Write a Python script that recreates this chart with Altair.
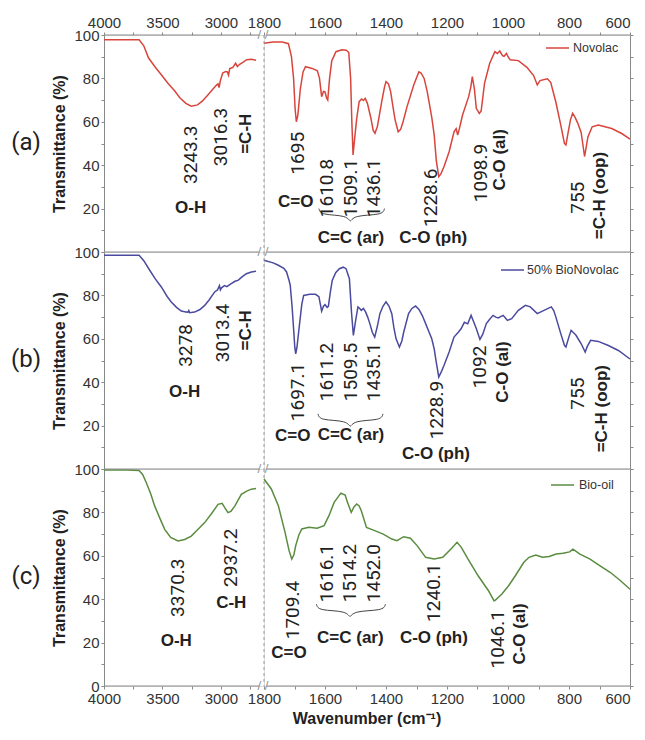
import altair as alt
import pandas as pd

# ---------------- data ----------------
WN_NOVOLAC = [4000, 3800, 3700, 3660, 3620, 3560, 3510, 3450, 3400, 3350, 3300, 3254, 3200, 3160, 3110, 3070,
              3040, 3025, 3016, 3005, 2985, 2960, 2945, 2935, 2925, 2900, 2875, 2860, 2840, 2810, 2780, 2740, 2700,
              1800, 1770, 1740, 1720, 1710, 1703, 1698, 1694, 1689, 1681, 1672, 1664, 1642, 1625, 1618, 1611, 1605,
              1600, 1595, 1591, 1585, 1578, 1564, 1545, 1530, 1522, 1516, 1512, 1508, 1503, 1496, 1488, 1480, 1474,
              1468, 1461, 1455, 1450, 1442, 1436, 1428, 1414, 1405, 1400, 1392, 1385, 1375, 1370, 1360, 1352, 1344,
              1331, 1309, 1298, 1292, 1285, 1275, 1265, 1259, 1250, 1242, 1235, 1227, 1220, 1210, 1193, 1177, 1170,
              1165, 1160, 1149, 1129, 1122, 1117, 1110, 1104, 1094, 1088, 1077, 1060, 1043, 1035, 1027, 1018, 1013,
              1005, 1000, 993, 966, 938, 916, 904, 895, 871, 860, 843, 827, 815, 810, 803, 795, 788, 780, 771, 760,
              755, 749, 744, 738, 724, 704, 682, 660, 627, 600]
T_NOVOLAC = [97.8, 97.8, 97.8, 95, 89.5, 85, 81.7, 77.5, 74.5, 71, 68.5, 67.2, 67.8, 69.5, 72.5, 75,
             76.8, 77.5, 75.8, 79, 82.5, 83.2, 83, 81.5, 84.5, 85, 87, 85.5, 86.5, 87.5, 88.6, 88.8, 88.4,
             96.2, 96.8, 96.8, 96, 90, 80, 66, 60, 63, 75, 83, 85.4, 84.6, 83.5, 80, 71.6, 74,
             73.8, 71, 70, 80, 88, 92.3, 93.2, 93, 91.9, 80, 60, 44.7, 52, 61.6, 69.3, 70.5, 69.8,
             70.8, 68.5, 65, 62, 56, 54.7, 58, 69.3, 76, 78.5, 77.5, 74, 65, 60.8, 55.4, 56.5, 60,
             67, 77, 81, 83, 82.5, 80, 74, 69.3, 62, 54, 42, 34.7, 36, 39.3, 46.2, 55.4, 56.9,
             53.9, 56.5, 63.1, 71.6, 76, 80.8, 75, 66.2, 63.9, 65, 77.7, 87, 92.3, 91.5, 92.6, 90.5, 90.2,
             91.5, 90, 88.6, 88.2, 85.1, 81.3, 77, 79, 79.8, 78.2, 69, 58.5, 50, 49.3, 55, 61, 63.9, 62, 59.3, 55,
             50, 44, 48, 53, 57.7, 58.5, 57.7, 56.9, 54.6, 52]

WN_BIONOVOLAC = [4000, 3800, 3700, 3660, 3609, 3560, 3510, 3460, 3425, 3380, 3339, 3300, 3282, 3275, 3268, 3225,
                 3180, 3139, 3100, 3054, 3030, 3013, 3005, 2995, 2970, 2950, 2912, 2880, 2854, 2820, 2783, 2740, 2700,
                 1800, 1770, 1753, 1735, 1726, 1718, 1714, 1708, 1703, 1699, 1696, 1692, 1684, 1676, 1670, 1650,
                 1631, 1620, 1614, 1611, 1605, 1600, 1593, 1589, 1582, 1576, 1565, 1553, 1540, 1531, 1520, 1513,
                 1507, 1500, 1492, 1486, 1481, 1474, 1467, 1460, 1453, 1445, 1437, 1428, 1420, 1410, 1400, 1390,
                 1381, 1374, 1367, 1356, 1348, 1342, 1326, 1315, 1303, 1292, 1281, 1270, 1259, 1250, 1242, 1235,
                 1227, 1218, 1210, 1193, 1177, 1163, 1154, 1143, 1132, 1121, 1113, 1104, 1092, 1083, 1071, 1060,
                 1049, 1040, 1032, 1016, 1002, 988, 966, 943, 927, 904, 882, 858, 850, 843, 827, 815, 810, 800,
                 793, 777, 760, 747, 740, 729, 704, 671, 638, 600]
T_BIONOVOLAC = [98.5, 98.5, 98.5, 96, 91.6, 87.5, 83.9, 79.5, 77, 74.5, 72.8, 72.4, 72.3, 73, 72, 72.3,
                73.5, 75.4, 78, 81.6, 82.5, 84.5, 82.5, 83.5, 84.5, 84, 85.4, 86.5, 86.9, 88.5, 90, 90.8, 91.1,
                96.2, 95, 93.9, 92.5, 90.8, 87, 84.7, 75, 64.7, 56, 53.1, 56, 66.2, 76, 80, 80.5,
                80.5, 79.4, 75, 72.7, 75, 75.7, 74.5, 75, 82, 87, 90.5, 92.3, 93, 92.3, 87.7, 72,
                61.6, 68, 74.7, 74, 73.1, 74, 72.4, 70, 67, 63, 60.8, 66, 71.6, 75, 77, 75,
                71.6, 65, 60, 56.2, 59, 63, 71.6, 74, 75.1, 73.5, 70.7, 67, 63.1, 60, 55.4, 49,
                42.4, 45, 47.7, 53.9, 60.8, 63, 64.6, 67.6, 66.9, 70.8, 68, 64.7, 59.7, 62, 67, 69,
                70.8, 70, 69.6, 70.8, 68.5, 69.3, 73.1, 75.4, 74.7, 71.6, 73.1, 74.7, 73, 70, 62.4, 57, 56.2, 61,
                63.9, 61.6, 57.7, 53.9, 56.5, 59.3, 58.8, 56.9, 54.6, 50.7]

WN_BIOOIL = [4000, 3800, 3700, 3670, 3638, 3600, 3567, 3520, 3481, 3430, 3367, 3310, 3254, 3200, 3139, 3080,
             3025, 2990, 2965, 2940, 2915, 2882, 2850, 2826, 2780, 2740, 2700,
             1800, 1776, 1753, 1731, 1718, 1709, 1702, 1696, 1686, 1676, 1653, 1626, 1603, 1587, 1570, 1548,
             1534, 1526, 1514, 1505, 1496, 1488, 1481, 1464, 1437, 1409, 1381, 1364, 1342, 1320, 1298, 1270,
             1242, 1214, 1187, 1167, 1153, 1131, 1098, 1064, 1046, 1042, 1020, 998, 976, 948, 931, 909, 887,
             865, 842, 820, 798, 787, 764, 731, 698, 664, 631, 600]
T_BIOOIL = [99.5, 99.5, 99.3, 97.5, 93.7, 88.5, 83, 77, 72.2, 68.5, 66.8, 67.5, 69.1, 72, 75.3, 79.5,
            83.7, 84.2, 82, 79.9, 80.5, 82.9, 86, 88.3, 89.8, 90.7, 91,
            95.4, 90.8, 83.1, 70.8, 62.5, 58.5, 60.5, 64.7, 69.5, 72.4, 73.1, 72.7, 73.9, 78.5, 84.6, 88.9,
            88, 84.6, 80, 82.5, 83.9, 83, 80.8, 73.1, 71.6, 70, 67.7, 67, 68.8, 68.1, 64.7, 59.3,
            58.5, 59.3, 63.1, 66.2, 63.9, 58.5, 50.8, 43.9, 39.3, 39.5, 42.4, 46.2, 50.8, 57, 59.3, 60.4, 59.3,
            59.7, 60.8, 61.2, 61.8, 63.1, 60.8, 58.5, 55.4, 52.3, 48.5, 44.6]

SERIES_NAMES = ["Novolac", "50% BioNovolac", "Bio-oil"]
SERIES_COLORS = ["#d8453c", "#4a4a9e", "#5a8c40"]
PANEL_TAGS = ["(a)", "(b)", "(c)"]

# annotations: text, wavenumber, transmittance, kind (num = rotated number, rot = rotated bold, hor = bold)
ANN_A_TEXT = ["3243.3", "3016.3", "=C-H", "O-H", "1695", "C=O", "1610.8", "1509.1", "1436.1", "C=C (ar)",
              "1228.6", "C-O (ph)", "1098.9", "C-O (al)", "755", "=C-H (oop)"]
ANN_A_WN = [3254, 2997, 2783, 3259, 1690, 1696, 1592, 1515, 1440, 1515, 1252, 1245, 1088, 1027, 771, 699]
ANN_A_T = [44.8, 53, 54.5, 20.3, 45.5, 23, 29.5, 29.5, 29.5, 6.5, 25, 6.5, 36.4, 42.5, 25, 26]
ANN_A_KIND = ["num", "num", "rot", "hor", "num", "hor", "num", "num", "num", "hor",
              "num", "hor", "num", "rot", "num", "rot"]

ANN_B_TEXT = ["3278", "3013.4", "=C-H", "O-H", "1697.1", "C=O", "1611.2", "1509.5", "1435.1", "C=C (ar)",
              "1228.9", "C-O (ph)", "1092", "C-O (al)", "755", "=C-H (oop)"]
ANN_B_WN = [3296, 2983, 2783, 3310, 1688, 1706, 1592, 1515, 1440, 1515, 1232, 1236, 1093, 1016, 771, 693]
ANN_B_T = [57, 62.7, 63.9, 35.5, 35.5, 15, 44.7, 44.7, 44.7, 15.5, 27.2, 7, 47, 44.7, 34.7, 27.8]
ANN_B_KIND = ["num", "num", "rot", "hor", "num", "hor", "num", "num", "num", "hor",
              "num", "hor", "num", "rot", "num", "rot"]

ANN_C_TEXT = ["3370.3", "2937.2", "C-H", "O-H", "1709.4", "C=O", "1616.1", "1514.2", "1452.0", "C=C (ar)",
              "1240.1", "C-O (ph)", "1046.1", "C-O (al)"]
ANN_C_WN = [3367, 2912, 2912, 3382, 1706, 1718, 1595, 1518, 1440, 1517, 1242, 1243, 1034, 960]
ANN_C_T = [45.3, 59.1, 38.4, 20.7, 35, 15, 52, 52, 52, 22, 43, 22, 21.5, 24]
ANN_C_KIND = ["num", "num", "hor", "hor", "num", "hor", "num", "num", "num", "hor",
              "num", "hor", "num", "rot"]

# curly brace under the C=C (ar) bands: left end, right end, tip, level
BRACE_LEFT = [1620, 1623, 1628]
BRACE_RIGHT = [1405, 1410, 1402]
BRACE_TIP = [1517, 1517, 1518]
BRACE_T = [17, 22.4, 34.7]

# legend placement inside each right panel (pixel offsets: line start, line end, text x, y)
LEGEND_POS = [(282, 305, 309, 13), (237, 260, 263, 18), (287, 310, 315, 16)]

ANNS = [(ANN_A_TEXT, ANN_A_WN, ANN_A_T, ANN_A_KIND),
        (ANN_B_TEXT, ANN_B_WN, ANN_B_T, ANN_B_KIND),
        (ANN_C_TEXT, ANN_C_WN, ANN_C_T, ANN_C_KIND)]
SPECTRA = [(WN_NOVOLAC, T_NOVOLAC), (WN_BIONOVOLAC, T_BIONOVOLAC), (WN_BIOOIL, T_BIOOIL)]

# ---------------- layout ----------------
WL, WR, H = 160, 366, 217
AXC = "#8a8a8a"
NUMFONT = "Roboto"
BOLDFONT = "Liberation Sans"
ONE = pd.DataFrame({"k": [0]})

xs_left = alt.Scale(domain=[2632, 4000], reverse=True, nice=False, zero=False)
xs_right = alt.Scale(domain=[600, 1800], reverse=True, nice=False, zero=False)
ys = alt.Scale(domain=[0, 100], nice=False, zero=False)


def x_axis(row, side):
    if row == 1:
        return None
    if side == "L":
        vals = [4000, 3750, 3500, 3250, 3000, 2750]
        expr = "datum.value % 500 == 0 ? datum.label : ''"
        lalign = "center"
    else:
        vals = list(range(600, 1801, 100))
        expr = "datum.value % 200 == 0 ? datum.label : ''"
        lalign = alt.ExprRef(expr="datum.value == 600 ? 'right' : 'center'")
    return alt.Axis(orient="top" if row == 0 else "bottom", values=vals, labelExpr=expr, format="d",
                    title=None, domain=False, ticks=True, tickSize=3, tickColor=AXC,
                    labelFont=BOLDFONT, labelFontSize=15, labelColor="#333", labelPadding=2,
                    labelAlign=lalign, labelFlush=False, labelOverlap=False, grid=False)


def y_axis(row, side):
    if side == "L":
        expr = ("datum.value % 20 == 0 ? datum.label : ''" if row == 2
                else "(datum.value % 20 == 0 && datum.value > 0) ? datum.label : ''")
        return alt.Axis(orient="left", values=list(range(0, 101, 10)), labelExpr=expr, format="d",
                        title="Transmittance (%)", titleFont=BOLDFONT, titleFontSize=16, titleFontWeight="bold",
                        titleColor="#222", titlePadding=6, domainColor=AXC, tickColor=AXC, tickSize=3,
                        labelFont=BOLDFONT, labelFontSize=15, labelColor="#333", labelPadding=2,
                        labelOverlap=False, grid=False)
    return alt.Axis(orient="right", values=list(range(0, 101, 10)), labels=False, title=None,
                    domainColor=AXC, tickColor=AXC, tickSize=3, grid=False)


def panel(row, side):
    wn, t = SPECTRA[row]
    df = pd.DataFrame({"wn": wn, "T": t})
    if side == "L":
        df = df[df.wn >= 2600]
        xs, W = xs_left, WL
    else:
        df = df[df.wn <= 1800]
        xs, W = xs_right, WR
    color = SERIES_COLORS[row]
    xax = x_axis(row, side)
    yax = y_axis(row, side)

    def X():
        return alt.X("wn:Q", scale=xs, axis=xax)

    def Y():
        return alt.Y("T:Q", scale=ys, axis=yax)

    layers = [alt.Chart(df).mark_line(color=color, strokeWidth=1.5).encode(x=X(), y=Y())]

    # borders
    if side == "L":
        layers.append(alt.Chart(ONE).mark_rule(color=AXC, strokeWidth=1).encode(
            x=alt.value(0), x2=alt.value(W - 5), y=alt.value(0)))
        if row == 2:
            layers.append(alt.Chart(ONE).mark_rule(color=AXC, strokeWidth=1).encode(
                x=alt.value(0), x2=alt.value(W - 5), y=alt.value(H)))
        layers.append(alt.Chart(ONE).mark_text(font=NUMFONT, fontSize=24, fontWeight="normal",
                                               color="#222").encode(
            x=alt.value(-78), y=alt.value(108), text=alt.value(PANEL_TAGS[row])))
    else:
        layers.append(alt.Chart(ONE).mark_rule(color=AXC, strokeWidth=1).encode(
            x=alt.value(3), x2=alt.value(W), y=alt.value(0)))
        if row == 2:
            layers.append(alt.Chart(ONE).mark_rule(color=AXC, strokeWidth=1).encode(
                x=alt.value(3), x2=alt.value(W), y=alt.value(H)))
        layers.append(alt.Chart(ONE).mark_rule(color="#999", strokeWidth=1, strokeDash=[3, 3]).encode(
            x=alt.value(0), y=alt.value(0), y2=alt.value(H)))
        for yy in ([0, H] if row == 2 else [0]):
            layers.append(alt.Chart(ONE).mark_text(fontSize=11, color=AXC, font="DejaVu Sans").encode(
                x=alt.value(-1), y=alt.value(yy), text=alt.value("/ /")))
        # legend
        x1, x2, tx, ty = LEGEND_POS[row]
        layers.append(alt.Chart(ONE).mark_rule(color=color, strokeWidth=1.5).encode(
            x=alt.value(x1), x2=alt.value(x2), y=alt.value(ty)))
        layers.append(alt.Chart(ONE).mark_text(align="left", baseline="middle", font=BOLDFONT,
                                               fontSize=12.5, fontWeight="normal", color="#333").encode(
            x=alt.value(tx), y=alt.value(ty), text=alt.value(SERIES_NAMES[row])))
        # brace
        l, r, tip, lv = BRACE_LEFT[row], BRACE_RIGHT[row], BRACE_TIP[row], BRACE_T[row]
        bdf = pd.DataFrame({
            "wn": [l, l - 6, tip + 8, tip, tip - 8, r + 6, r],
            "T": [lv + 3, lv, lv, lv - 4, lv, lv, lv + 3],
            "i": list(range(7))})
        layers.append(alt.Chart(bdf).mark_line(color="#444", strokeWidth=1, interpolate="basis").encode(
            x=X(), y=Y(), order="i:O"))
        if row == 2:
            layers.append(alt.Chart(ONE).mark_text(font=BOLDFONT, fontSize=16, fontWeight="bold",
                                                   color="#222").encode(
                x=alt.value(103), y=alt.value(H + 33), text=alt.value("Wavenumber (cm⁻¹)")))

    # annotations
    texts, wns, ts, kinds = ANNS[row]
    adf = pd.DataFrame({"text": texts, "wn": wns, "T": ts, "kind": kinds})
    adf = adf[(adf.wn >= 2000) if side == "L" else (adf.wn < 2000)]
    nd = adf[adf.kind == "num"]
    rd = adf[adf.kind == "rot"]
    hd = adf[adf.kind == "hor"]
    if len(nd):
        layers.append(alt.Chart(nd).mark_text(angle=270, align="center", baseline="middle", font=NUMFONT,
                                              fontSize=19, fontWeight="normal", color="#222").encode(
            x=X(), y=Y(), text="text:N"))
    if len(rd):
        layers.append(alt.Chart(rd).mark_text(angle=270, align="center", baseline="middle", font=BOLDFONT,
                                              fontSize=17, fontWeight="bold", color="#222").encode(
            x=X(), y=Y(), text="text:N"))
    if len(hd):
        layers.append(alt.Chart(hd).mark_text(align="center", baseline="middle", font=BOLDFONT,
                                              fontSize=17, fontWeight="bold", color="#222").encode(
            x=X(), y=Y(), text="text:N"))

    return alt.layer(*layers).properties(width=W, height=H)


panels = [panel(r, s) for r in range(3) for s in ("L", "R")]
chart = alt.concat(*panels, columns=2, spacing=0, bounds="flush").properties(
    padding={"left": 2, "top": 6, "right": 0, "bottom": 0}
).configure_view(stroke=None).configure(background="white")

chart.save("out.html", embed_options={"renderer": "svg", "actions": False})
